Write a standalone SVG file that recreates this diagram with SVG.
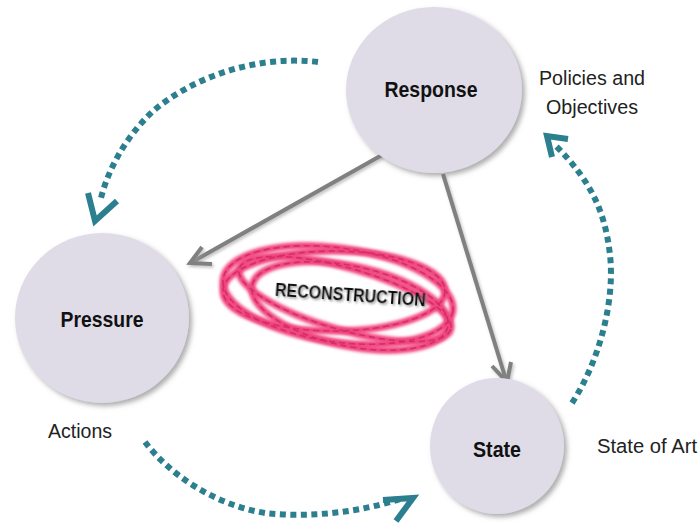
<svg xmlns="http://www.w3.org/2000/svg" width="700" height="531" viewBox="0 0 700 531">
<style>
.node{fill:#dfdce8;filter:url(#sh)}
.lbl{font-family:"Liberation Sans Narrow","Liberation Sans",Arial,sans-serif;font-weight:bold;font-size:22px;fill:#111;text-anchor:middle}
.note{font-family:"Liberation Sans Narrow","Liberation Sans",Arial,sans-serif;font-size:20px;fill:#222}
.dot{fill:none;stroke:#2b7f8e;stroke-width:6;stroke-dasharray:6 4.5}
.chev{fill:none;stroke:#2b7f8e;stroke-width:6;stroke-linejoin:miter;stroke-linecap:butt}
.gray{fill:none;stroke:#808080;stroke-width:4;filter:url(#sh2)}
.ring{fill:none;stroke:#f0447f;stroke-width:7;filter:url(#blur)}
.dash{fill:none;stroke:#d42d68;stroke-width:1.6;stroke-dasharray:6 4}
</style>
<defs>
<filter id="sh" x="-20%" y="-20%" width="150%" height="150%">
<feDropShadow dx="3" dy="3" stdDeviation="2.5" flood-color="#777" flood-opacity="0.6"/>
</filter>
<filter id="sh2" x="-20%" y="-20%" width="150%" height="150%">
<feDropShadow dx="1.5" dy="2" stdDeviation="1.5" flood-color="#999" flood-opacity="0.6"/>
</filter>
<filter id="blur" x="-20%" y="-20%" width="140%" height="140%">
<feGaussianBlur stdDeviation="1.5"/>
</filter>
<filter id="tsh" x="-10%" y="-30%" width="120%" height="160%">
<feDropShadow dx="1.5" dy="1.5" stdDeviation="1" flood-color="#888" flood-opacity="0.8"/>
</filter>
</defs>
<rect width="700" height="531" fill="#fff"/>

<g id="reconstruction">
<ellipse class="ring" cx="338" cy="295" rx="116" ry="47" transform="rotate(8 338 295)"/>
<ellipse class="ring" cx="345" cy="299" rx="110" ry="31" transform="rotate(16 345 299)"/>
<ellipse class="ring" cx="334" cy="291" rx="111" ry="40"/>
<ellipse class="ring" cx="350" cy="306" rx="100" ry="40" transform="rotate(12 350 306)"/>
<ellipse class="dash" cx="338" cy="295" rx="116" ry="47" transform="rotate(8 338 295)"/>
<ellipse class="dash" cx="345" cy="299" rx="110" ry="31" transform="rotate(16 345 299)"/>
<ellipse class="dash" cx="334" cy="291" rx="111" ry="40"/>
<ellipse class="dash" cx="350" cy="306" rx="100" ry="40" transform="rotate(12 350 306)"/>
<text x="350" y="301" transform="rotate(4 350 301)" font-family="'Liberation Sans',Arial,sans-serif" font-weight="bold" font-size="17.5" fill="#111" text-anchor="middle" textLength="151" lengthAdjust="spacingAndGlyphs" filter="url(#tsh)">RECONSTRUCTION</text>
</g>

<g id="connectors">
<path class="gray" d="M382,155 L192,262"/>
<polyline class="gray" points="202,247 190,263 212,264"/>
<path class="gray" d="M443,174 L506,380"/>
<polyline class="gray" points="492,366 507,382 511,362"/>
<path class="dot" d="M318,62 C260,55 195,75 152,112 C125,138 108,170 101,198"/>
<polyline class="chev" points="88,193 95,221 117,201"/>
<path class="dot" d="M145,442 C170,475 215,505 265,513 C310,518 360,512 400,499"/>
<polyline class="chev" points="383,500 413,498 396,521"/>
<path class="dot" d="M572,403 C600,360 615,300 610,255 C605,210 590,180 555,145"/>
<polyline class="chev" points="568,139 547,136 552,157"/>
</g>

<g id="response">
<ellipse class="node" cx="434" cy="90" rx="88" ry="83"/>
<text class="lbl" x="431" y="97" textLength="93" lengthAdjust="spacingAndGlyphs">Response</text>
</g>
<g id="pressure">
<ellipse class="node" cx="102" cy="318" rx="87" ry="85"/>
<text class="lbl" x="102" y="327" textLength="83" lengthAdjust="spacingAndGlyphs">Pressure</text>
</g>
<g id="state">
<ellipse class="node" cx="497" cy="446" rx="67" ry="68"/>
<text class="lbl" x="497" y="457" textLength="48" lengthAdjust="spacingAndGlyphs">State</text>
</g>

<g id="labels">
<text class="note" x="539" y="85" textLength="106" lengthAdjust="spacingAndGlyphs">Policies and</text>
<text class="note" x="546" y="114" textLength="92" lengthAdjust="spacingAndGlyphs">Objectives</text>
<text class="note" x="48" y="438" textLength="64" lengthAdjust="spacingAndGlyphs">Actions</text>
<text class="note" x="597" y="453" textLength="100" lengthAdjust="spacingAndGlyphs">State of Art</text>
</g>
</svg>
